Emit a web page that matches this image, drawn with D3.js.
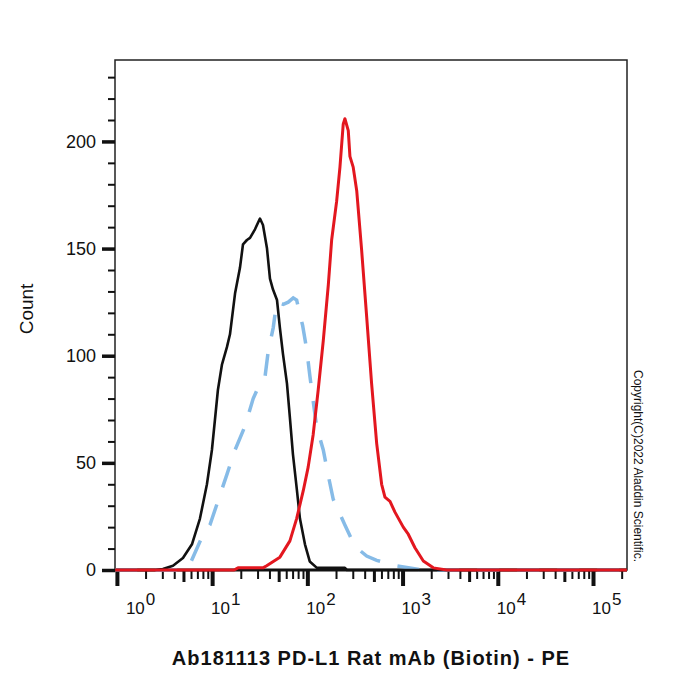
<!DOCTYPE html>
<html>
<head>
<meta charset="utf-8">
<script src="https://cdn.jsdelivr.net/npm/d3@7"></script>
<style>
  body { margin: 0; background: #fff; }
  text { font-family: 'Liberation Sans', Arial, sans-serif; fill: #111; }
</style>
</head>
<body>
<div class="canvas"></div>
<script>
// histogram traces: [PE intensity, count]
const blankControl = [
  [0.96, 0], [2.5, 0], [3.04, 0.5], [3.88, 2], [4.94, 5.6], [6.14, 12], [7.45, 24],
  [8.82, 40], [9.95, 56], [10.7, 70], [11.5, 84], [12.7, 96], [14.3, 104], [15.4, 110],
  [17.4, 129], [19.6, 141], [21.1, 152], [23.2, 154], [25.0, 155], [28.2, 159],
  [31.8, 164], [34.2, 161], [37.7, 150], [40.5, 136], [43.5, 131], [48.0, 126],
  [51.5, 113], [55.4, 101], [61.1, 87], [65.6, 71], [70.6, 54], [77.8, 37], [83.6, 24],
  [94.4, 12], [106, 4], [126, 1], [248, 1], [260, 0], [227000, 0],
];

const isotypeControl = [
  [0.96, 0], [4.5, 0], [4.97, 1], [5.84, 2.7], [8.07, 16.7], [9.48, 21], [12.1, 35],
  [14.4, 45], [17.4, 56], [22.1, 67], [27.0, 80], [31.8, 87], [35.9, 90], [38.8, 102],
  [43.8, 113], [47.6, 125], [55.8, 124], [63.0, 125], [71.1, 127], [77.2, 126],
  [89.3, 114], [98.4, 103], [106, 91], [115, 79], [125, 67], [147, 56], [166, 44],
  [187, 33], [248, 21], [316, 11], [420, 6.5], [535, 4.5], [867, 1.9], [1637, 0],
  [227000, 0],
];

const pdl1Stained = [
  [0.96, 0], [17, 0], [18.7, 1], [34.2, 1], [37.4, 2], [51.5, 6], [65.6, 13.6],
  [77.2, 24], [90.6, 37], [102, 48], [115, 63], [130, 84], [147, 107], [166, 133],
  [180, 154], [203, 172], [220, 188], [238, 208], [248, 210.6], [269, 205], [280, 193],
  [303, 188], [330, 177], [372, 149], [420, 118], [473, 87], [535, 59], [603, 40],
  [653, 34], [738, 32], [832, 27], [1017, 20], [1148, 16.7], [1349, 10.4],
  [1652, 4.2], [2103, 1], [2904, 0], [227000, 0],
];

const countTicks = [0, 50, 100, 150, 200];
const countMinorTicks = d3.range(0, 240, 10);
const decadeTicks = [1, 10, 100, 1000, 10000, 100000];
const decadeExponents = ['0', '1', '2', '3', '4', '5'];

const xTitle = 'Ab181113 PD-L1 Rat mAb (Biotin) - PE';
const yTitle = 'Count';
const copyright = 'Copyright(C)2022 Aladdin Scientific.';

const svg = d3
  .select('.canvas')
  .append('svg')
  .attr('width', 700)
  .attr('height', 700);

//scales
const x = d3.scaleLog().domain([0.955, 227500]).range([115, 627]);
const y = d3.scaleLinear().domain([0, 238]).range([570, 60]);

const [plotLeft, plotRight] = x.range();
const [plotBottom, plotTop] = y.range();

//frame
svg
  .append('rect')
  .attr('x', plotLeft)
  .attr('y', plotTop)
  .attr('width', plotRight - plotLeft)
  .attr('height', plotBottom - plotTop)
  .attr('fill', 'none')
  .attr('stroke', '#222')
  .attr('stroke-width', 1.5);

//y axis ticks
svg
  .append('g')
  .attr('transform', `translate(${plotLeft}, 0)`)
  .call(d3.axisLeft(y).tickValues(countMinorTicks).tickSize(7).tickFormat(''))
  .call((g) => g.select('.domain').remove())
  .selectAll('line')
  .attr('stroke', '#111')
  .attr('stroke-width', 2);

const yAxisGroup = svg
  .append('g')
  .attr('transform', `translate(${plotLeft}, 0)`)
  .call(d3.axisLeft(y).tickValues(countTicks).tickSize(13).tickPadding(6));

yAxisGroup.select('.domain').remove();
yAxisGroup.selectAll('line').attr('stroke', '#111').attr('stroke-width', 3.5);
yAxisGroup
  .selectAll('text')
  .attr('font-size', 18)
  .attr('font-family', "'Liberation Sans', Arial, sans-serif")
  .attr('fill', '#111');

//x axis ticks: decades, fives and the rest
const leading = (v) => Math.round(v / 10 ** Math.floor(Math.log10(v) + 1e-9));
const allTicks = x.ticks();
const minorTicks = allTicks.filter((v) => leading(v) !== 1 && leading(v) !== 5);
const fiveTicks = allTicks.filter((v) => leading(v) === 5);

const xTickGroups = [
  { values: minorTicks, size: 9, width: 2 },
  { values: fiveTicks, size: 12, width: 3 },
  { values: decadeTicks, size: 16, width: 4 },
];

xTickGroups.forEach((t) => {
  svg
    .append('g')
    .attr('transform', `translate(0, ${plotBottom})`)
    .call(d3.axisBottom(x).tickValues(t.values).tickSize(t.size).tickFormat(''))
    .call((g) => g.select('.domain').remove())
    .selectAll('line')
    .attr('stroke', '#111')
    .attr('stroke-width', t.width);
});

//x axis line
svg
  .append('line')
  .attr('x1', plotLeft)
  .attr('x2', plotRight)
  .attr('y1', plotBottom)
  .attr('y2', plotBottom)
  .attr('stroke', '#111')
  .attr('stroke-width', 3);

//decade labels (first one nudged off the y axis)
const xLabels = svg
  .append('g')
  .selectAll('text')
  .data(decadeTicks)
  .enter()
  .append('text')
  .attr('x', (d, i) => x(d) + (i === 0 ? 9 : -1))
  .attr('y', 614)
  .attr('font-size', 17);

xLabels.append('tspan').text('10');
xLabels
  .append('tspan')
  .attr('dx', 1)
  .attr('dy', -9)
  .text((d, i) => decadeExponents[i]);

//traces
const line = d3
  .line()
  .x((d) => x(d[0]))
  .y((d) => y(d[1]));

svg
  .append('path')
  .datum(isotypeControl)
  .attr('fill', 'none')
  .attr('stroke', '#86bbe7')
  .attr('stroke-width', 3.5)
  .attr('stroke-dasharray', '22,18')
  .attr('d', line);

svg
  .append('path')
  .datum(blankControl)
  .attr('fill', 'none')
  .attr('stroke', '#111')
  .attr('stroke-width', 2.6)
  .attr('stroke-linejoin', 'round')
  .attr('d', line);

svg
  .append('path')
  .datum(pdl1Stained)
  .attr('fill', 'none')
  .attr('stroke', '#e3171f')
  .attr('stroke-width', 3)
  .attr('stroke-linejoin', 'round')
  .attr('d', line);

//titles
svg
  .append('text')
  .attr('x', (plotLeft + plotRight) / 2)
  .attr('y', 665)
  .attr('text-anchor', 'middle')
  .attr('font-size', 20)
  .attr('font-weight', 'bold')
  .attr('letter-spacing', 1)
  .text(xTitle);

svg
  .append('text')
  .attr('transform', 'translate(33, 309) rotate(-90)')
  .attr('text-anchor', 'middle')
  .attr('font-size', 19)
  .text(yTitle);

svg
  .append('text')
  .attr('transform', 'translate(634, 370) rotate(90)')
  .attr('font-size', 12)
  .attr('fill', '#222')
  .text(copyright);
</script>
</body>
</html>
